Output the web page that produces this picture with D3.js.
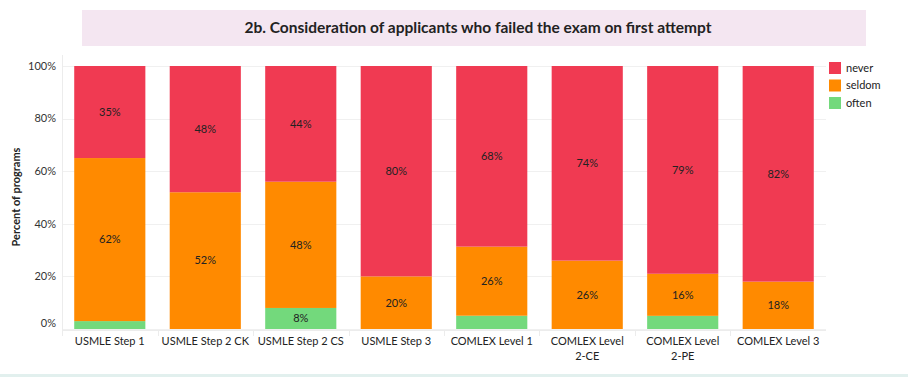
<!DOCTYPE html>
<html>
<head>
<meta charset="utf-8">
<script src="https://cdn.jsdelivr.net/npm/d3@7"></script>
<style>
  body { margin: 0; background: #fff; }
  svg { font-family: "Lato", "Open Sans", sans-serif; }
</style>
</head>
<body>
<div id="chart"></div>
<script>
// exam categories, two-line labels split by "|"
var categories = ["USMLE Step 1", "USMLE Step 2 CK", "USMLE Step 2 CS", "USMLE Step 3",
  "COMLEX Level 1", "COMLEX Level|2-CE", "COMLEX Level|2-PE", "COMLEX Level 3"];
var never  = [35, 48, 44, 80, 68, 74, 79, 82];
var seldom = [62, 52, 48, 20, 26, 26, 16, 18];
var often  = [3, 0, 8, 0, 5, 0, 5, 0];
var seriesNames = ["never", "seldom", "often"];
var yTicks = [0, 20, 40, 60, 80, 100];

var width = 908, height = 377;
var colors = { never: "#f03a52", seldom: "#ff8a00", often: "#73d97c" };

var svg = d3.select("#chart").append("svg")
  .attr("width", width)
  .attr("height", height);

// title band
svg.append("rect")
  .attr("x", 82).attr("y", 10).attr("width", 784).attr("height", 36)
  .attr("fill", "#f4e6f1");
svg.append("text")
  .attr("x", 478).attr("y", 33)
  .attr("text-anchor", "middle")
  .attr("font-size", 15.5).attr("font-weight", "bold")
  .attr("fill", "#222")
  .text("2b. Consideration of applicants who failed the exam on first attempt");

// bottom strip
svg.append("rect")
  .attr("x", 0).attr("y", 374).attr("width", width).attr("height", 3)
  .attr("fill", "#e2f0ee");

var x = d3.scaleBand()
  .domain(categories)
  .range([62, 826])
  .paddingInner(0.255)
  .paddingOuter(0.128);

var y = d3.scaleLinear()
  .domain([0, 100])
  .range([329, 66]);

// gridlines
svg.append("g")
  .selectAll("line")
  .data(yTicks)
  .enter().append("line")
  .attr("x1", 62).attr("x2", 826)
  .attr("y1", function(d) { return Math.round(y(d)) + 0.5; })
  .attr("y2", function(d) { return Math.round(y(d)) + 0.5; })
  .attr("stroke", "#f0f0f0");

// left axis line
svg.append("line")
  .attr("x1", 62.5).attr("x2", 62.5).attr("y1", 55).attr("y2", 336)
  .attr("stroke", "#ececec");

// bottom axis line + separators
svg.append("line")
  .attr("x1", 62).attr("x2", 826).attr("y1", 330.5).attr("y2", 330.5)
  .attr("stroke", "#ececec");
var step = x.step();
svg.append("g")
  .selectAll("line")
  .data(categories.slice(1))
  .enter().append("line")
  .attr("x1", function(d) { return Math.round(x(d) - x.paddingInner() * step / 2) + 0.5; })
  .attr("x2", function(d) { return Math.round(x(d) - x.paddingInner() * step / 2) + 0.5; })
  .attr("y1", 330).attr("y2", 336)
  .attr("stroke", "#ececec");

// y tick labels
svg.append("g")
  .selectAll("text")
  .data(yTicks)
  .enter().append("text")
  .attr("x", 56)
  .attr("y", function(d) { return d === 0 ? y(d) - 6 : y(d); })
  .attr("dy", "0.35em")
  .attr("text-anchor", "end")
  .attr("font-size", 11)
  .attr("fill", "#333")
  .text(function(d) { return d + "%"; });

svg.append("text")
  .attr("transform", "translate(20,197)rotate(-90)")
  .attr("text-anchor", "middle")
  .attr("font-size", 11).attr("font-weight", "bold")
  .attr("fill", "#222")
  .text("Percent of programs");

// stacked data: often at bottom, then seldom, then never (normalised to 100%)
var rows = categories.map(function(c, i) {
  return { cat: c, often: often[i], seldom: seldom[i], never: never[i] };
});
var stack = d3.stack().keys(["often", "seldom", "never"]).offset(d3.stackOffsetExpand);
var layers = stack(rows);

var g = svg.append("g");
layers.forEach(function(layer) {
  var key = layer.key;
  g.selectAll(".bar-" + key)
    .data(layer)
    .enter().append("rect")
    .attr("class", "bar-" + key)
    .attr("x", function(d) { return x(d.data.cat); })
    .attr("width", x.bandwidth())
    .attr("y", function(d) { return y(d[1] * 100); })
    .attr("height", function(d) { return y(d[0] * 100) - y(d[1] * 100); })
    .attr("fill", colors[key]);

  g.selectAll(".lab-" + key)
    .data(layer.filter(function(d) { return d.data[key] >= 8; }))
    .enter().append("text")
    .attr("x", function(d) { return x(d.data.cat) + x.bandwidth() / 2; })
    .attr("y", function(d) { return (y(d[0] * 100) + y(d[1] * 100)) / 2; })
    .attr("dy", "0.35em")
    .attr("text-anchor", "middle")
    .attr("font-size", 11)
    .attr("fill", "#222")
    .text(function(d) { return d.data[key] + "%"; });
});

// category labels
svg.append("g")
  .selectAll("text")
  .data(categories)
  .enter().append("text")
  .attr("x", function(d) { return x(d) + x.bandwidth() / 2; })
  .attr("y", 345)
  .attr("text-anchor", "middle")
  .attr("font-size", 11)
  .attr("fill", "#222")
  .each(function(d) {
    var parts = d.split("|");
    var t = d3.select(this);
    parts.forEach(function(p, i) {
      t.append("tspan")
        .attr("x", x(d) + x.bandwidth() / 2)
        .attr("dy", i === 0 ? 0 : 15)
        .text(p);
    });
  });

// legend
var legend = svg.append("g")
  .selectAll("g")
  .data(seriesNames)
  .enter().append("g")
  .attr("transform", function(d, i) { return "translate(829," + (62 + i * 17.5) + ")"; });
legend.append("rect")
  .attr("width", 12).attr("height", 12)
  .attr("fill", function(d) { return colors[d]; });
legend.append("text")
  .attr("x", 17).attr("y", 6).attr("dy", "0.35em")
  .attr("font-size", 11)
  .attr("fill", "#222")
  .text(function(d) { return d; });
</script>
</body>
</html>
